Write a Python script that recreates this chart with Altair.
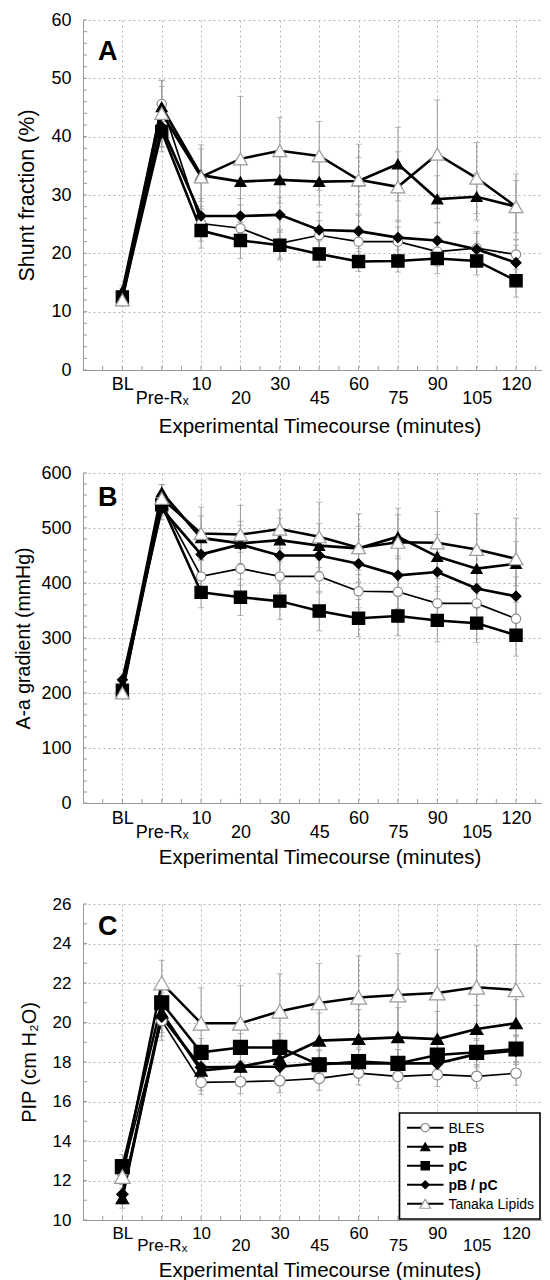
import altair as alt
import pandas as pd
import numpy as np

FONT = "Liberation Sans"

# ---------------- shared categories ----------------
x_labels = ["BL", "Pre-Rₓ", "10", "20", "30", "45", "60", "75", "90", "105", "120"]
x_index = list(range(11))
series_names = ["BLES", "pB", "pC", "pB / pC", "Tanaka Lipids"]

# ---------------- Panel A: Shunt fraction (%) ----------------
a_bles = [12.5, 45.6, 25.1, 24.3, 21.7, 23.1, 22.0, 22.0, 20.3, 20.9, 19.8]
a_pb = [13.5, 45.1, 33.4, 32.3, 32.6, 32.3, 32.4, 35.3, 29.3, 29.7, 28.0]
a_pc = [12.5, 40.9, 23.9, 22.2, 21.4, 19.9, 18.6, 18.7, 19.1, 18.7, 15.3]
a_pbpc = [13.0, 41.7, 26.4, 26.4, 26.6, 24.0, 23.8, 22.7, 22.2, 20.7, 18.4]
a_tanaka = [12.0, 44.0, 33.1, 36.2, 37.6, 36.7, 32.6, 31.4, 37.0, 32.9, 28.0]
a_bles_se = [1.0, 3.0, 3.0, 2.5, 2.5, 2.5, 2.5, 2.5, 2.5, 2.5, 2.5]
a_pb_se = [1.0, 4.5, 4.5, 4.0, 4.0, 4.0, 4.0, 6.3, 4.0, 4.0, 4.5]
a_pc_se = [1.0, 3.5, 3.0, 3.1, 2.5, 2.2, 1.7, 1.9, 2.6, 2.4, 2.8]
a_pbpc_se = [1.0, 3.5, 3.0, 3.0, 3.0, 3.0, 3.0, 3.0, 3.0, 3.0, 3.0]
a_tanaka_se = [1.0, 5.7, 5.5, 10.7, 5.7, 5.9, 6.1, 6.0, 9.3, 6.1, 5.6]

# ---------------- Panel B: A-a gradient (mmHg) ----------------
b_bles = [205, 545, 412, 426, 412, 412, 385, 384, 363, 363, 335]
b_pb = [212, 565, 482, 472, 478, 468, 463, 484, 448, 426, 435]
b_pc = [205, 542, 383, 374, 367, 349, 336, 340, 332, 327, 305]
b_pbpc = [224, 535, 452, 470, 450, 450, 435, 414, 420, 390, 376]
b_tanaka = [200, 554, 490, 488, 498, 484, 464, 474, 473, 461, 444]
b_bles_se = [10, 20, 30, 30, 30, 30, 30, 30, 30, 30, 30]
b_pb_se = [10, 14, 40, 40, 40, 40, 40, 40, 40, 40, 40]
b_pc_se = [10, 20, 28, 33, 33, 36, 34, 36, 39, 35, 38]
b_pbpc_se = [10, 20, 35, 35, 35, 35, 35, 35, 35, 35, 35]
b_tanaka_se = [10, 25, 48, 53, 35, 63, 62, 62, 57, 65, 74]

# ---------------- Panel C: PIP (cm H2O) ----------------
c_bles = [12.4, 20.1, 16.97, 17.0, 17.05, 17.17, 17.44, 17.27, 17.36, 17.27, 17.43]
c_pb = [11.1, 20.5, 17.56, 17.76, 18.15, 19.08, 19.16, 19.25, 19.16, 19.67, 19.96]
c_pc = [12.7, 21.0, 18.49, 18.74, 18.74, 17.86, 18.02, 17.93, 18.35, 18.49, 18.66]
c_pbpc = [11.3, 20.3, 17.73, 17.76, 17.76, 17.93, 17.93, 17.93, 17.93, 18.4, 18.57]
c_tanaka = [12.2, 22.0, 19.96, 19.96, 20.57, 20.99, 21.27, 21.39, 21.49, 21.78, 21.65]
c_bles_se = [0.6, 1.0, 0.6, 0.6, 0.6, 0.6, 0.6, 0.6, 0.6, 0.6, 0.6]
c_pb_se = [0.5, 1.0, 1.0, 1.0, 1.0, 1.4, 1.5, 1.5, 1.4, 1.2, 1.2]
c_pc_se = [0.6, 1.0, 0.7, 0.7, 0.7, 0.7, 0.7, 0.7, 0.7, 0.7, 0.7]
c_pbpc_se = [0.5, 1.0, 0.7, 0.7, 0.7, 0.7, 0.7, 0.7, 0.7, 0.7, 0.7]
c_tanaka_se = [0.8, 1.15, 1.8, 1.9, 1.9, 2.0, 2.1, 2.1, 2.2, 2.1, 2.3]

# ---------------- styles ----------------
STYLE = {
    "BLES": dict(shape="circle", fill="white", stroke="#8a8a8a", size=85, lw=1.7,
                 lsize=70, weight="normal"),
    "pB": dict(shape="triangle-up", fill="black", stroke="black", size=120, lw=2.7,
               lsize=80, weight="bold"),
    "pC": dict(shape="square", fill="black", stroke="black", size=150, lw=2.5,
               lsize=70, weight="bold"),
    "pB / pC": dict(shape="diamond", fill="black", stroke="black", size=100, lw=2.7,
                    lsize=60, weight="bold"),
    "Tanaka Lipids": dict(shape="triangle-up", fill="white", stroke="#9a9a9a", size=190, lw=2.5,
                          lsize=110, weight="normal"),
}

XDOM = [-1, 10.66]
WIDTH = 459
GRID = "#b4b4b4"
AXC = "#9a9a9a"
label_arr = "[" + ",".join("'" + s + "'" for s in x_labels) + "]"
x_label_expr = ("datum.value % 2 == 0 ? [" + label_arr + "[datum.value], ''] : ['', "
                + label_arr + "[datum.value]]")
XTITLE = "Experimental Timecourse (minutes)"

# legend box layout inside panel C (pixels, relative to the plot area)
LEG_BOX = (316.5, 209, 457, 315)
LEG_ROW0, LEG_ROW_STEP = 223.7, 19
LEG_LINE = (324, 360.5)
LEG_TEXT_X = 365.5


def legend_layers():
    out = [alt.Chart(pd.DataFrame({"k": [0]})).mark_rect(
        fill="white", stroke="black", strokeWidth=1.6).encode(
        x=alt.value(LEG_BOX[0]), x2=alt.value(LEG_BOX[2]),
        y=alt.value(LEG_BOX[1]), y2=alt.value(LEG_BOX[3]))]
    for i, name in enumerate(series_names):
        st = STYLE[name]
        yc = LEG_ROW0 + i * LEG_ROW_STEP
        one = alt.Chart(pd.DataFrame({"series": [name]}))
        out.append(one.mark_rule(color="black", strokeWidth=2).encode(
            x=alt.value(LEG_LINE[0]), x2=alt.value(LEG_LINE[1]), y=alt.value(yc)))
        out.append(one.mark_point(shape=st["shape"], filled=True, fill=st["fill"],
                                  stroke=st["stroke"] if st["fill"] == "white" else "black",
                                  strokeWidth=1.2, size=st["lsize"], opacity=1).encode(
            x=alt.value((LEG_LINE[0] + LEG_LINE[1]) / 2), y=alt.value(yc)))
        out.append(one.mark_text(align="left", baseline="middle", fontSize=14, font=FONT,
                                 fontWeight=st["weight"], color="black").encode(
            x=alt.value(LEG_TEXT_X), y=alt.value(yc + 1), text="series:N"))
    return out


def make_panel(letter, ytitle, vals, ses, ydom, ystep, yminor, height,
               ytitle_x, ytitle_size, letter_y, row1, row_gap, xtitle_y, tick_font,
               msize=1.0, legend=False):
    rows = []
    for name, v, e in zip(series_names, vals, ses):
        for i in x_index:
            rows.append(dict(series=name, x=i, m=v[i], lo=v[i] - e[i], hi=v[i] + e[i]))
    df = pd.DataFrame(rows)
    xs = alt.Scale(domain=XDOM, nice=False, zero=False)
    ys = alt.Scale(domain=ydom, nice=False, zero=False)
    yvals = [float(v) for v in np.arange(ydom[0], ydom[1] + ystep / 2, ystep)]

    xaxis = alt.Axis(values=x_index, grid=True, gridColor=GRID, gridDash=[2, 3],
                     ticks=False, tickSize=0, domainColor=AXC,
                     labelExpr=x_label_expr, labelFontSize=tick_font,
                     labelPadding=row1, labelBaseline="alphabetic",
                     labelLineHeight=row_gap, labelOverlap=False,
                     labelFlush=False, labelBound=False,
                     titleX=236.5, titleY=xtitle_y, titleBaseline="alphabetic",
                     titleAlign="center", titleFontSize=20.5)
    yaxis = alt.Axis(values=yvals, grid=True, gridColor=GRID, gridDash=[2, 3],
                     ticks=False, tickSize=0, domainColor=AXC,
                     labelFontSize=tick_font, labelPadding=12,
                     titleX=ytitle_x, titleY=height / 2, titleAngle=270,
                     titleBaseline="alphabetic", titleAlign="center",
                     titleFontSize=ytitle_size, minExtent=74.5, maxExtent=74.5)

    def X(field="x:Q"):
        return alt.X(field, scale=xs, axis=xaxis, title=XTITLE)

    def Y(field):
        return alt.Y(field, scale=ys, axis=yaxis, title=ytitle)

    # minor ticks drawn inward from the axis lines
    xminor = pd.DataFrame({"x": [float(v) for v in np.arange(-0.5, 10.6, 0.5)]})
    layers = [alt.Chart(xminor).mark_rule(color=AXC, strokeWidth=1).encode(
        x=X(), y=alt.value(height), y2=alt.value(height - 4))]
    ymin = pd.DataFrame({"m": [float(v) for v in np.arange(ydom[0], ydom[1] + yminor / 2, yminor)]})
    layers.append(alt.Chart(ymin).mark_rule(color=AXC, strokeWidth=1).encode(
        y=Y("m:Q"), x=alt.value(0), x2=alt.value(4)))

    base = alt.Chart(df)
    layers.append(base.mark_rule(color=AXC, strokeWidth=1).encode(
        x=X(), y=Y("lo:Q"), y2="hi:Q"))
    layers.append(base.mark_tick(orient="horizontal", size=6, thickness=1, color=AXC).encode(
        x=X(), y=Y("lo:Q")))
    layers.append(base.mark_tick(orient="horizontal", size=6, thickness=1, color=AXC).encode(
        x=X(), y=Y("hi:Q")))
    for name in series_names:
        st = STYLE[name]
        layers.append(base.transform_filter(alt.datum.series == name).mark_line(
            color="black", strokeWidth=st["lw"]).encode(x=X(), y=Y("m:Q")))
    for name in series_names:
        st = STYLE[name]
        layers.append(base.transform_filter(alt.datum.series == name).mark_point(
            shape=st["shape"], filled=True, fill=st["fill"], stroke=st["stroke"],
            strokeWidth=1.2, size=st["size"] * msize, opacity=1).encode(x=X(), y=Y("m:Q")))

    layers.append(alt.Chart(pd.DataFrame({"t": [letter]})).mark_text(
        align="left", baseline="alphabetic", fontSize=27, fontWeight="bold", font=FONT,
        color="black").encode(x=alt.value(15), y=alt.value(letter_y), text="t:N"))

    if legend:
        layers.extend(legend_layers())

    return alt.layer(*layers).properties(width=WIDTH, height=height)


panel_a = make_panel("A", "Shunt fraction (%)",
                     [a_bles, a_pb, a_pc, a_pbpc, a_tanaka],
                     [a_bles_se, a_pb_se, a_pc_se, a_pbpc_se, a_tanaka_se],
                     [0, 60], 10, 2, 350, -49.5, 21.5, 40, 19, 14, 62, 18)
panel_b = make_panel("B", "A-a gradient (mmHg)",
                     [b_bles, b_pb, b_pc, b_pbpc, b_tanaka],
                     [b_bles_se, b_pb_se, b_pc_se, b_pbpc_se, b_tanaka_se],
                     [0, 600], 100, 20, 330, -54, 19.5, 33, 20, 14, 60, 18)
panel_c = make_panel("C", "PIP (cm H₂O)",
                     [c_bles, c_pb, c_pc, c_pbpc, c_tanaka],
                     [c_bles_se, c_pb_se, c_pc_se, c_pbpc_se, c_tanaka_se],
                     [10, 26], 2, 1, 316, -48, 20, 31, 18, 12, 56, 17, msize=1.3, legend=True)

chart = alt.vconcat(panel_a, panel_b, panel_c, spacing=27).properties(
    padding={"left": 0, "top": 3, "right": 0, "bottom": 0}
).configure(font=FONT).configure_axis(
    labelFont=FONT, titleFont=FONT, labelColor="black", titleColor="black",
    titleFontWeight="normal"
).configure_view(stroke=None)

chart.save("out.html", embed_options={"renderer": "svg", "actions": False})
